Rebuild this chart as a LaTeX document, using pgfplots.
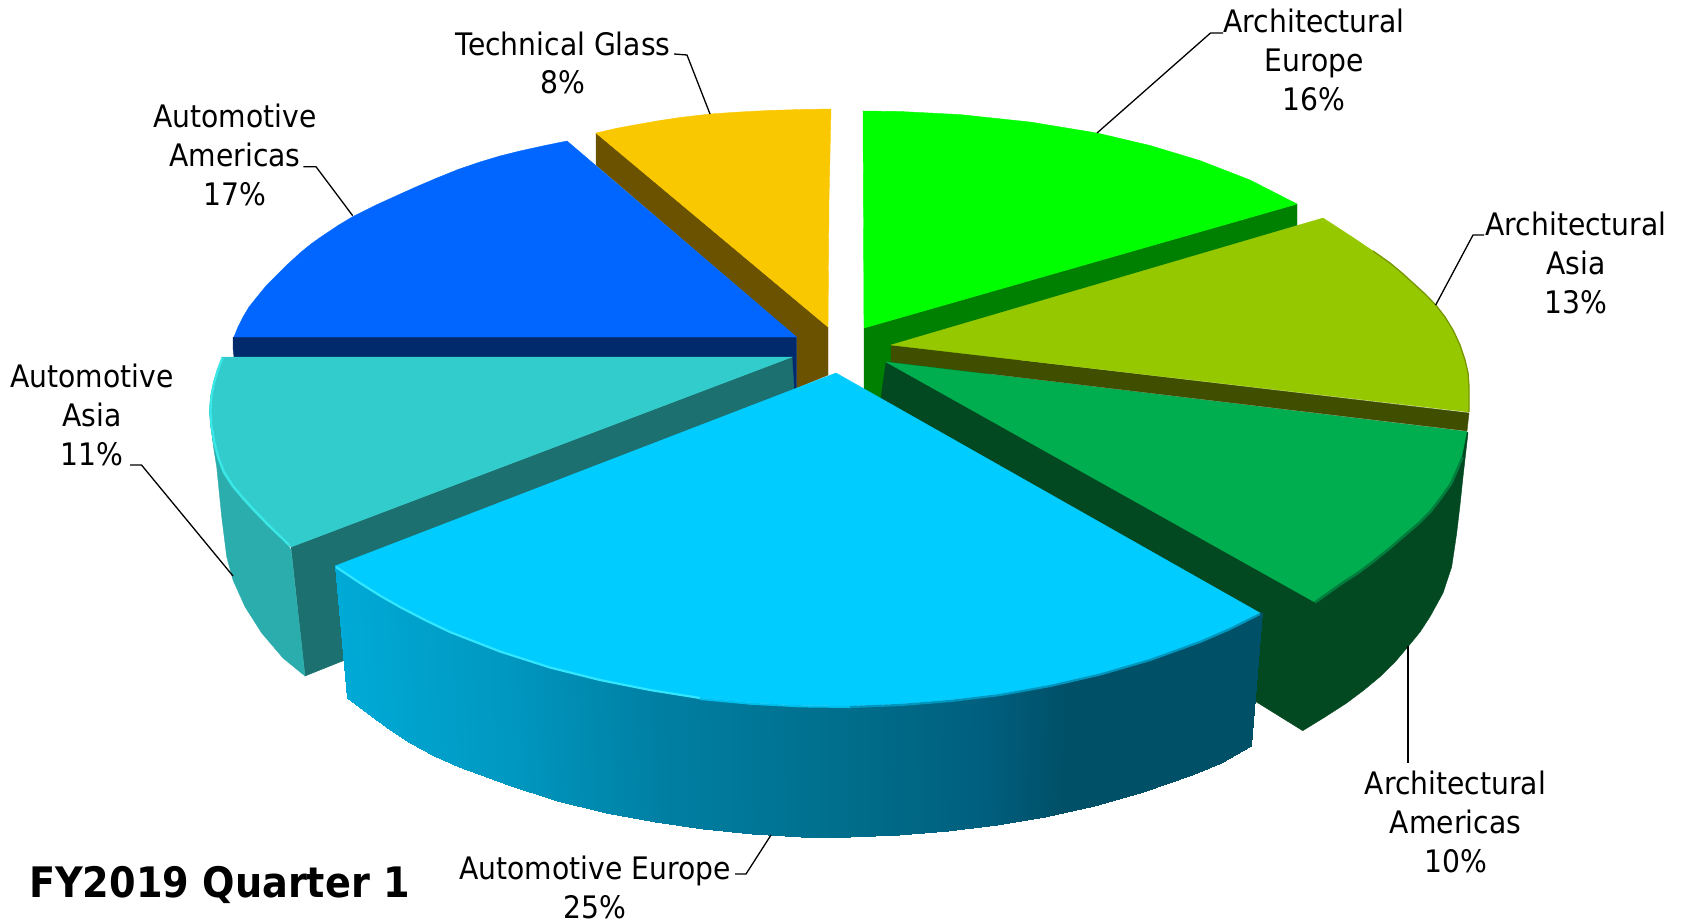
\documentclass[border=0pt]{standalone}
\usepackage{fontspec}
\setmainfont{DejaVu Sans}[FakeStretch=0.91]
\usepackage{pgfplots}
\pgfplotsset{compat=1.18}
\definecolor{yTop}{RGB}{250,200,0}
\definecolor{ySide}{RGB}{106,82,0}
\definecolor{bTop}{RGB}{0,102,255}
\definecolor{bSide}{RGB}{0,42,108}
\definecolor{tTop}{RGB}{51,204,204}
\definecolor{tSide}{RGB}{44,173,173}
\definecolor{tDark}{RGB}{28,112,112}
\definecolor{tEdge}{RGB}{58,232,232}
\definecolor{gTop}{RGB}{0,255,0}
\definecolor{gSide}{RGB}{0,128,0}
\definecolor{oTop}{RGB}{150,200,0}
\definecolor{oSide}{RGB}{64,78,0}
\definecolor{oEdge}{RGB}{120,150,0}
\definecolor{dTop}{RGB}{0,174,79}
\definecolor{dSide}{RGB}{2,72,32}
\definecolor{dEdge}{RGB}{0,125,60}
\definecolor{cTop}{RGB}{0,204,255}
\definecolor{cEdge}{RGB}{51,230,255}
\definecolor{cEdgeM}{RGB}{0,190,235}
\definecolor{cEdgeD}{RGB}{0,150,190}
\tikzset{lab/.style={font=\fontsize{31}{38.7}\selectfont, align=center, text=black, inner sep=0pt}}
\begin{document}
\begin{tikzpicture}
\begin{axis}[
  scale only axis, width=1681pt, height=923pt,
  xmin=0, xmax=1681, ymin=0, ymax=923, y dir=reverse,
  axis lines=none, no markers,
  colormap={cy}{rgb255(335pt)=(0,170,214) rgb255(494pt)=(0,153,194) rgb255(658pt)=(0,127,163) rgb255(823pt)=(0,112,142) rgb255(985pt)=(0,95,126) rgb255(1067pt)=(0,80,104) rgb255(1262pt)=(0,80,104)},
]
\path (axis cs:0,0) rectangle (axis cs:1681,923);
% Technical Glass
\addplot[fill=ySide,draw=ySide,line width=.4pt] coordinates {(596,133)(596,165)(796.5,337)(796.5,388)(828,375)(828,327)} --cycle;
\addplot[fill=yTop,draw=yTop,line width=.4pt] coordinates {(596,133)(618,128)(640,124)(660,120.5)(680,117.5)(710,114)(740,112)(768,110.5)(800,109.5)(831,109)(829,200)(828,327)} --cycle;
% Automotive Americas
\addplot[fill=bSide,draw=bSide,line width=.4pt] coordinates {(233,337)(796.5,337)(796.5,390)(792,395)(792,357)(234,357)(233,348)} --cycle;
\addplot[fill=bTop,draw=bTop,line width=.4pt] coordinates {(567,141)(545,145.5)(520,151)(500,156)(480,162)(458,169.5)(437,178)(417,186.5)(397,195.5)(375,205.5)(353,216.5)(338,225.5)(323,235.5)(311,244)(300,253)(288,264)(277,275)(266,286)(257,297)(249,307)(243,317)(238,327)(234,337)(796.5,337)} --cycle;
% Automotive Asia
\addplot[fill=tDark,draw=tDark,line width=.4pt] coordinates {(792,357)(794,388)(794,400)(400,640)(340,662)(305,676)(291,547)} --cycle;
\addplot[fill=tSide,draw=tSide,line width=.4pt] coordinates {(209.3,410)(211.7,433)(214,450)(216.7,466.7)(219,490)(221.7,516.7)(226.7,556.7)(233,580)(245,606.7)(261.7,633)(283,658)(305,676)(291,550)} --cycle;
\addplot[fill=tTop,draw=tTop,line width=.4pt] coordinates {(222,357)(792,357)(291,547)(279,536)(266.7,525)(255,513)(243,500)(232,487)(223,473)(217.5,458)(213.3,443)(210.5,426)(209.3,410)(210.5,396)(213.3,383)(217,370)} --cycle;
\addplot[draw=tEdge,line width=2.2pt] coordinates {(222.5,358)(218,370)(214,383)(211.5,396)(210.5,410)(211.5,426)(214.5,443)(218.5,458)(224,472)(233,486)(244,499)(256,512)(267.5,524)(289,545)};
% Architectural Europe
\addplot[fill=gSide,draw=gSide,line width=.4pt] coordinates {(864,328)(1297,204)(1297,250)(895,410)(864,395)} --cycle;
\addplot[fill=gTop,draw=gTop,line width=.4pt] coordinates {(863,111)(900,111.5)(960,114.6)(1030,122)(1097,133)(1150,145.5)(1200,160.6)(1250,180)(1297,204)(864,328)} --cycle;
% Architectural Asia
\addplot[fill=oSide,draw=oSide,line width=.4pt] coordinates {(891,345)(891,362)(1467,431)(1469,413)} --cycle;
\addplot[fill=oTop,draw=oTop,line width=.4pt] coordinates {(891,345)(1323,218)(1340,229)(1356.7,240)(1373,251)(1390,263)(1402,273)(1413,283)(1425,294)(1435.7,305)(1445,317)(1453,330)(1460,345)(1465,360)(1468,373)(1469,386.7)(1469,412)} --cycle;
\addplot[draw=oEdge,line width=1.3pt] coordinates {(1373,251)(1390,263)(1402,273)(1413,283)(1425,294)(1435.7,305)(1445,317)(1453,330)(1460,345)(1465,360)(1468,373)(1469,386.7)(1469,412)};
% Architectural Americas
\addplot[fill=dSide,draw=dSide,line width=.4pt] coordinates {(886,362)(1467,432)(1468,433)(1463,476.7)(1460,505)(1456.7,533)(1451.7,566.7)(1443,593)(1430,616.7)(1420,632)(1408,646.7)(1395,662)(1380,676.7)(1364,690)(1346.7,703)(1325,717)(1302.7,730.7)(1250,698)(880,405)} --cycle;
\addplot[fill=dTop,draw=dTop,line width=.4pt] coordinates {(886,362)(1466.7,431.7)(1461.7,456.7)(1456,470)(1450,483)(1440,497)(1430,510)(1417,523)(1403,535)(1388,548)(1373,560)(1357,572)(1340,583)(1314,601.7)} --cycle;
\addplot[draw=dEdge,line width=2.5pt] coordinates {(1462.5,457)(1457,470.5)(1451,484)(1441,498)(1431,511)(1418,524)(1404,536)(1389,549)(1374,561)(1358,573)(1341,584)(1315,602.5)};
% Automotive Europe
\addplot[surf, shader=interp, mesh/rows=2, point meta=explicit, point meta min=335, point meta max=1262]
 table[meta=c] {
x y c
335 566 335
360 583 360
380 595.6 380
400 607 400
425 620 425
450 632 450
500 651.5 500
550 667.5 550
600 680 600
650 690 650
700 698 700
750 702.7 750
800 705.4 800
850 706 850
900 704 900
950 700 950
1000 694 1000
1050 685 1050
1100 673.5 1100
1150 659 1150
1200 641 1200
1230 628 1230
1262 612 1262
347 698 335
371 716 360
390 729.5 380
410 743 400
434 755.5 425
459 766.6 450
508 785 500
557 800.5 550
606 812.7 600
655 822 650
703 829 700
752 834 750
801 836.5 800
850 837 850
899 835 900
948 831 950
997 825 1000
1045 817 1050
1094 806 1100
1143 792 1150
1192 775 1200
1221 763 1230
1251 746 1262
};
\addplot[fill=cTop,draw=cTop,line width=.4pt] coordinates {(836,373)(335,566)(360,583)(380,595.6)(400,607)(425,620)(450,632)(500,651.5)(550,667.5)(600,680)(650,690)(700,698)(750,702.7)(800,705.4)(850,706)(900,704)(950,700)(1000,694)(1050,685)(1100,673.5)(1150,659)(1200,641)(1230,628)(1260,613)} --cycle;
\addplot[draw=cEdge,line width=2.2pt] coordinates {(336,567)(360,583)(380,595.6)(400,607)(425,620)(450,632)(500,651.5)(550,667.5)(600,680)(650,690)(700,698)};
\addplot[draw=cEdgeM,line width=2pt] coordinates {(700,699)(750,703.7)(800,706.4)(850,707)};
\addplot[draw=cEdgeD,line width=2.2pt] coordinates {(850,707)(900,705)(950,701)(1000,695)(1050,686)(1100,674.5)(1150,660)(1200,642)(1230,629)(1260,614)};
% leaders
\addplot[black,line width=1.3pt] coordinates {(674,54)(687,55)(710,114)};
\addplot[black,line width=1.3pt] coordinates {(303.3,166.7)(316,166.7)(352.7,215.7)};
\addplot[black,line width=1.3pt] coordinates {(130,465)(141.5,465)(233,576)};
\addplot[black,line width=1.3pt] coordinates {(1223,33)(1210.5,33)(1097,133)};
\addplot[black,line width=1.3pt] coordinates {(1484,235)(1473,235)(1435.7,305)};
\addplot[black,line width=1.3pt] coordinates {(1408,646)(1408,763)};
\addplot[black,line width=1.3pt] coordinates {(735,874)(746,874)(771,835)};
% labels
\node[lab] at (axis cs:563,63) {Technical Glass\\8\%};
\node[lab] at (axis cs:235,155) {Automotive\\Americas\\17\%};
\node[lab] at (axis cs:92,415) {Automotive\\Asia\\11\%};
\node[lab] at (axis cs:1314,60) {Architectural\\Europe\\16\%};
\node[lab] at (axis cs:1576,263) {Architectural\\Asia\\13\%};
\node[lab] at (axis cs:1455.5,822) {Architectural\\Americas\\10\%};
\node[lab] at (axis cs:595,871) {Automotive Europe};
\node[lab] at (axis cs:595,907.5) {25\%};
\node[font=\fontsize{42}{48}\selectfont\bfseries,inner sep=0pt] at (axis cs:219.5,885) {FY2019 Quarter 1};
\end{axis}
\end{tikzpicture}
\end{document}
